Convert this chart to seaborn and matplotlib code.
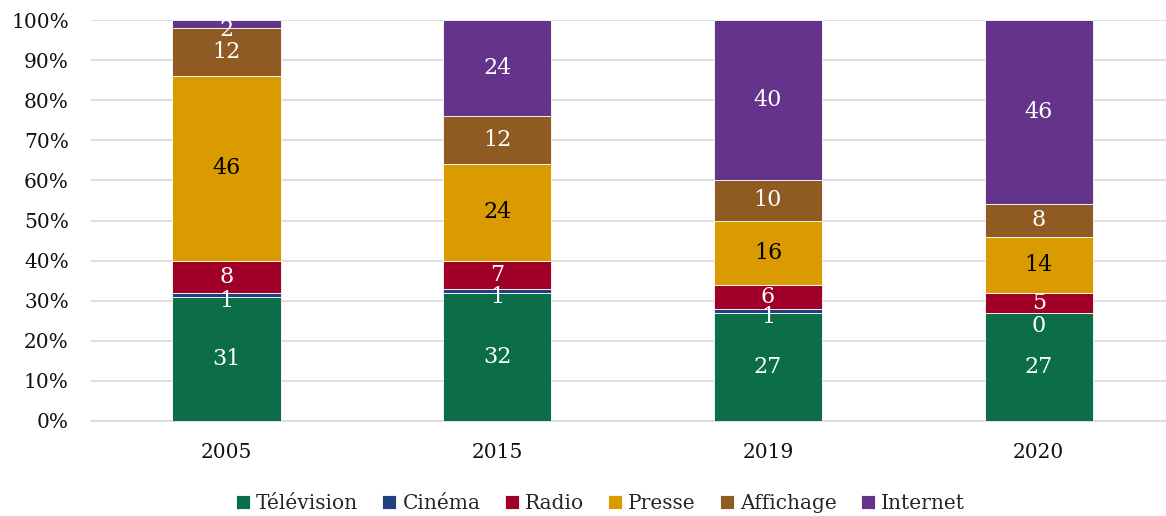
import numpy as np
import pandas as pd
import matplotlib
matplotlib.use("Agg")
import matplotlib.pyplot as plt
import seaborn as sns

years = ["2005", "2015", "2019", "2020"]
series = ["Télévision", "Cinéma", "Radio", "Presse", "Affichage", "Internet"]
television = [31, 32, 27, 27]
cinema = [1, 1, 1, 0]
radio = [8, 7, 6, 5]
presse = [46, 24, 16, 14]
affichage = [12, 12, 10, 8]
internet = [2, 24, 40, 46]

colors = ["#0b6e48", "#1f417d", "#a00028", "#d99b00", "#8f5b23", "#633489"]
label_colors = ["white", "white", "white", "black", "white", "white"]

df = pd.DataFrame({"Année": years, "Télévision": television, "Cinéma": cinema,
                   "Radio": radio, "Presse": presse, "Affichage": affichage,
                   "Internet": internet})

sns.set_style("white")
plt.rcParams["font.family"] = ["DejaVu Serif"]
fs = 14.5
fs_lab = 16

fig = plt.figure(figsize=(11.66, 5.16), dpi=100)
ax = fig.add_axes([91 / 1166, 1 - 421 / 516, 1 - 91 / 1166, (421 - 20) / 516])

totals = df[series].sum(axis=1).values
bottom = np.zeros(len(years))
for s, c, lc in zip(series, colors, label_colors):
    vals = df[s].values / totals * 100
    sns.barplot(x=df["Année"], y=vals, bottom=bottom, color=c, width=0.4,
                saturation=1, edgecolor="white", linewidth=0.6, ax=ax,
                label=s, zorder=3)
    for i, (v, raw) in enumerate(zip(vals, df[s].values)):
        if raw == 0:
            # empty segment: label sits just under the boundary
            ax.text(i, bottom[i] - 0.5, f"{raw}", ha="center", va="top",
                    color=lc, fontsize=fs_lab, zorder=5)
        elif s == "Cinéma":
            ax.text(i, bottom[i] - 1.0, f"{raw}", ha="center", va="center",
                    color=lc, fontsize=fs_lab, zorder=5)
        elif v < 3:
            ax.text(i, bottom[i] + v / 2 - 1.5, f"{raw}", ha="center", va="center",
                    color=lc, fontsize=fs_lab, zorder=5)
        else:
            ax.text(i, bottom[i] + v / 2, f"{raw}", ha="center", va="center",
                    color=lc, fontsize=fs_lab, zorder=5)
    bottom = bottom + vals

ax.set_ylim(0, 100)
ax.set_xlim(-0.5, 3.47)
ax.set_yticks(np.arange(0, 101, 10))
ax.set_yticklabels([f"{t}%" for t in range(0, 101, 10)])
ax.yaxis.grid(True, color="#d9d9d9", linewidth=1.2, zorder=0)
ax.set_axisbelow(True)
for sp in ["top", "right", "left"]:
    ax.spines[sp].set_visible(False)
ax.spines["bottom"].set_color("#d9d9d9")
ax.spines["bottom"].set_linewidth(1.2)
ax.tick_params(axis="both", length=0, labelsize=fs, colors="#111111")
ax.tick_params(axis="x", pad=16)
ax.tick_params(axis="y", pad=16)
ax.set_xlabel("")
ax.set_ylabel("")
if ax.get_legend() is not None:
    ax.get_legend().remove()

handles, labels = ax.get_legend_handles_labels()
fig.legend(handles, labels, loc="center", bbox_to_anchor=(0.515, 0.025), ncol=6,
           frameon=False, fontsize=fs, handlelength=0.7, handleheight=0.7,
           handletextpad=0.3, columnspacing=1.2)

fig.savefig("out.png", dpi=100)
